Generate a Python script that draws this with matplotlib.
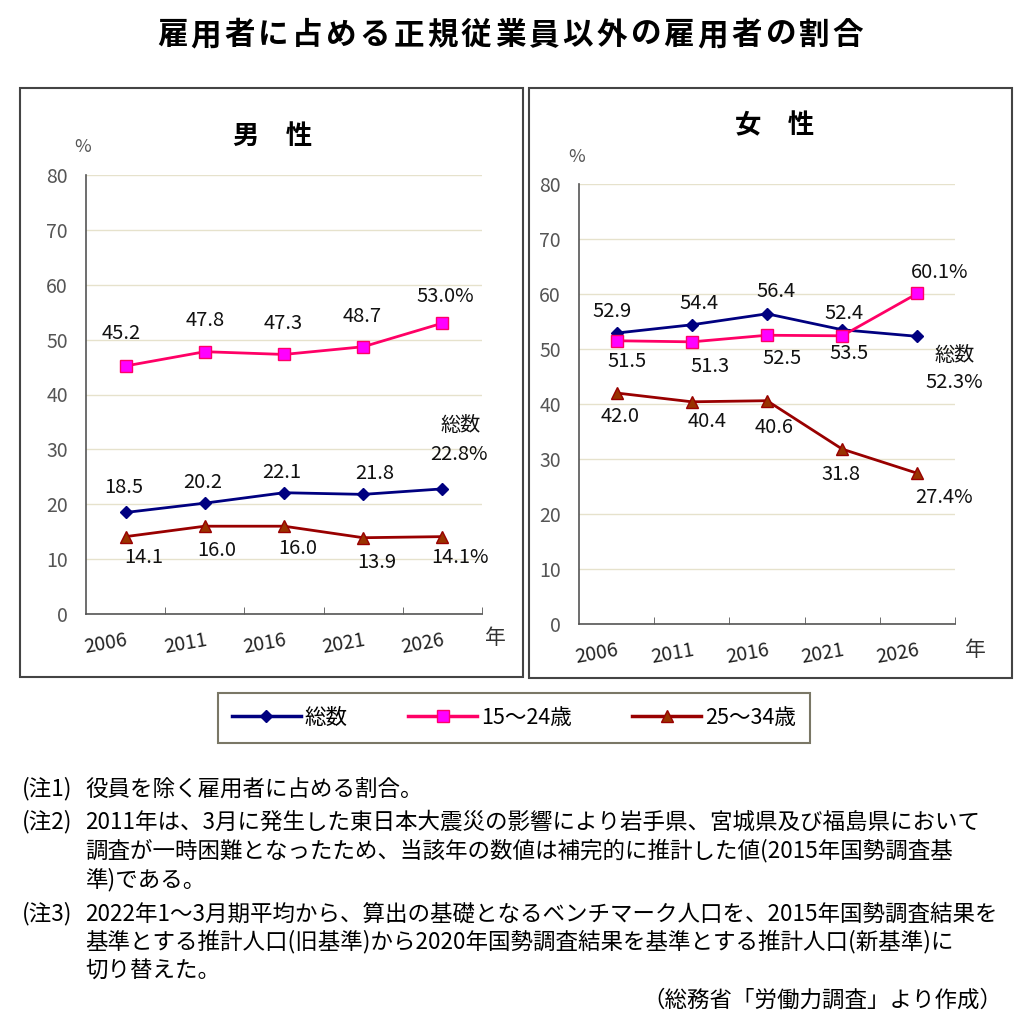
import numpy as np
import matplotlib.pyplot as plt
from matplotlib.patches import Rectangle
from matplotlib.lines import Line2D

plt.rcParams['font.family'] = ['Noto Sans CJK JP', 'DejaVu Sans']

W, H = 1020, 1024

years = ['2006', '2011', '2016', '2021', '2026']
series_names = ['総数', '15〜24歳', '25〜34歳']

# 男性
m_total = [18.5, 20.2, 22.1, 21.8, 22.8]
m_young = [45.2, 47.8, 47.3, 48.7, 53.0]
m_mid = [14.1, 16.0, 16.0, 13.9, 14.1]

# 女性 (2021年は元の図で総数と15~24歳のラベルが入れ替わっている)
f_total = [52.9, 54.4, 56.4, 53.5, 52.3]
f_young = [51.5, 51.3, 52.5, 52.4, 60.1]
f_mid = [42.0, 40.4, 40.6, 31.8, 27.4]
f_total_lbl = ['52.9', '54.4', '56.4', '52.4', '52.3%']
f_young_lbl = ['51.5', '51.3', '52.5', '53.5', '60.1%']

notes = [
    (789, '(注1)', '役員を除く雇用者に占める割合。'),
    (822, '(注2)', '2011年は、3月に発生した東日本大震災の影響により岩手県、宮城県及び福島県において'),
    (851, '', '調査が一時困難となったため、当該年の数値は補完的に推計した値(2015年国勢調査基'),
    (880, '', '準)である。'),
    (914, '(注3)', '2022年1〜3月期平均から、算出の基礎となるベンチマーク人口を、2015年国勢調査結果を'),
    (942, '', '基準とする推計人口(旧基準)から2020年国勢調査結果を基準とする推計人口(新基準)に'),
    (971, '', '切り替えた。'),
]
source = '（総務省「労働力調査」より作成）'
title = '雇用者に占める正規従業員以外の雇用者の割合'

styles = [
    dict(color='#000080', marker='D', ms=6.5, mfc='#000080', mec='#000080'),
    dict(color='#ff0066', marker='s', ms=8, mfc='#ff00ff', mec='#ff0066'),
    dict(color='#990000', marker='^', ms=8.5, mfc='#993300', mec='#990000'),
]


def fmt(vals):
    out = ['%.1f' % v for v in vals]
    out[-1] += '%'
    return out


def px_axes(l, t, r, b):
    return fig.add_axes([l / W, 1 - b / H, (r - l) / W, (b - t) / H])


def panel(ax, data, labels, offsets):
    x = np.arange(len(years))
    for vals, st in zip(data, styles):
        ax.plot(x, vals, lw=2, zorder=3, **st)
    for vals, lbls, offs in zip(data, labels, offsets):
        for xi, v, s, (dx, dy) in zip(x, vals, lbls, offs):
            ax.annotate(s, (xi, v), xytext=(dx, dy), textcoords='offset pixels',
                        ha='center', va='center', fontsize=14.5, color='#111111')
    ax.set_xlim(-0.5, 4.5)
    ax.set_ylim(0, 80)
    ax.set_yticks(range(0, 81, 10))
    ax.tick_params(axis='y', length=0, pad=13, labelsize=14, labelcolor='#555555')
    ax.set_xticks(x)
    ax.set_xticklabels(years)
    ax.set_xticks(np.arange(0.5, 4.6, 1), minor=True)
    ax.tick_params(axis='x', which='major', length=0, pad=11, labelsize=14,
                   labelcolor='#222222')
    ax.tick_params(axis='x', which='minor', length=5, direction='in', color='#555555')
    for lbl in ax.get_xticklabels():
        lbl.set_rotation(10)
        lbl.set_ha('right')
        lbl.set_rotation_mode('anchor')
    ax.yaxis.grid(True, color='#e6e2cc', lw=1)
    ax.set_axisbelow(True)
    for s in ['top', 'right']:
        ax.spines[s].set_visible(False)
    for s in ['left', 'bottom']:
        ax.spines[s].set_color('#555555')
        ax.spines[s].set_linewidth(1.2)


fig = plt.figure(figsize=(W / 100, H / 100), dpi=100)

# title with a little letter spacing
step = 33.8
x0 = W / 2 - step * (len(title) - 1) / 2
for i, ch in enumerate(title):
    fig.text((x0 + i * step) / W, 1 - 35 / H, ch, ha='center', va='center',
             fontsize=22, fontweight='bold')

# panel frames
for (l, t, r, b) in [(20, 88, 523, 677), (529, 88, 1012, 678)]:
    fig.patches.append(Rectangle((l / W, 1 - b / H), (r - l) / W, (b - t) / H,
                                 transform=fig.transFigure, fill=False,
                                 ec='#444444', lw=1.5))

# 男性
axm = px_axes(86, 175, 482, 614)
panel(axm, [m_total, m_young, m_mid], [fmt(m_total), fmt(m_young), fmt(m_mid)],
      [[(-2, 25), (-2, 21), (-2, 20), (12, 21), (17, 34)],
       [(-4, 32), (0, 31), (-1, 31), (-1, 30), (3, 27)],
       [(18, -21), (12, -24), (14, -22), (14, -25), (18, -21)]])
axm.annotate('総数', (4, m_total[-1]), xytext=(18, 63), textcoords='offset pixels',
             ha='center', va='center', fontsize=14.5, color='#111111')
fig.text(273 / W, 1 - 136 / H, '男　性', ha='center', va='center', fontsize=19,
         fontweight='bold')
fig.text(83 / W, 1 - 147 / H, '%', ha='center', va='center', fontsize=13, color='#555555')
fig.text(495 / W, 1 - 638 / H, '年', ha='center', va='center', fontsize=15, color='#333333')

# 女性
axf = px_axes(579, 184, 955, 624)
panel(axf, [f_total, f_young, f_mid], [f_total_lbl, f_young_lbl, fmt(f_mid)],
      [[(-5, 22), (7, 21), (9, 22), (2, 16), (37, -46)],
       [(10, -21), (18, -25), (15, -23), (7, -18), (22, 21)],
       [(4, -24), (15, -20), (7, -27), (-1, -25), (27, -24)]])
axf.annotate('総数', (4, f_total[-1]), xytext=(37, -19), textcoords='offset pixels',
             ha='center', va='center', fontsize=14.5, color='#111111')
fig.text(775 / W, 1 - 126 / H, '女　性', ha='center', va='center', fontsize=19,
         fontweight='bold')
fig.text(577 / W, 1 - 157 / H, '%', ha='center', va='center', fontsize=13, color='#555555')
fig.text(975 / W, 1 - 650 / H, '年', ha='center', va='center', fontsize=15, color='#333333')

# legend
fig.patches.append(Rectangle((218 / W, 1 - 743 / H), 592 / W, 50 / H,
                             transform=fig.transFigure, fill=False, ec='#7a7766', lw=1.5))
handles = [Line2D([], [], lw=2.5, **st) for st in styles]
fig.legend(handles, series_names, loc='center', bbox_to_anchor=(514 / W, 1 - 718 / H),
           ncol=3, frameon=False, fontsize=15.5, handlelength=3.2, handletextpad=0.2,
           columnspacing=2.8)

# notes
for y, pre, body in notes:
    if pre:
        fig.text(22 / W, 1 - y / H, pre, ha='left', va='center', fontsize=16.2)
    fig.text(85 / W, 1 - y / H, body, ha='left', va='center', fontsize=16.2)
fig.text(1002 / W, 1 - 1000 / H, source, ha='right', va='center', fontsize=16.2)

fig.savefig('out.png', dpi=100, facecolor='white')
